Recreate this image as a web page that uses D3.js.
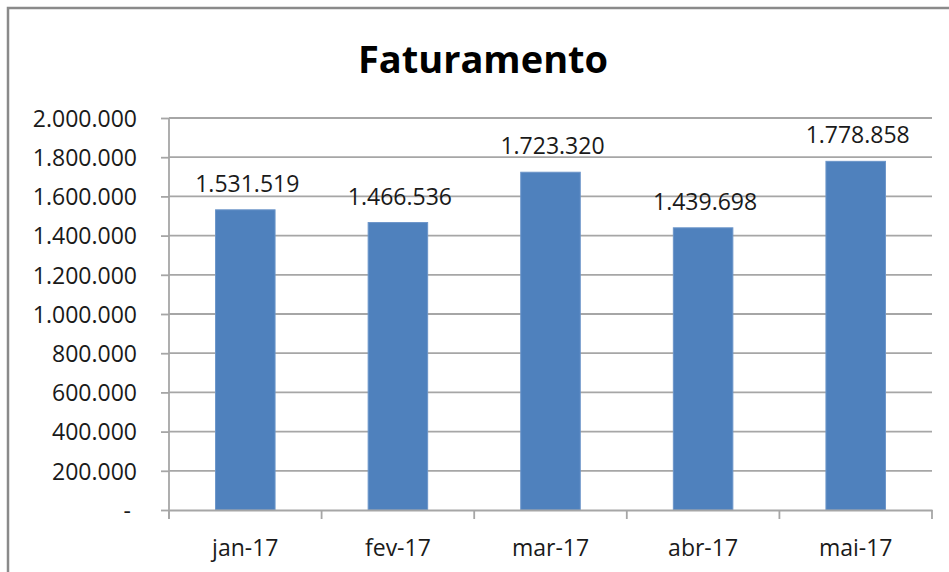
<!DOCTYPE html>
<html>
<head>
<meta charset="utf-8">
<script src="https://cdn.jsdelivr.net/npm/d3@7"></script>
<style>
    html, body { margin: 0; padding: 0; background: #fff; }
    svg { display: block; }
</style>
</head>
<body>
<div id="chart"></div>
<script>
// chart values
const months = ["jan-17", "fev-17", "mar-17", "abr-17", "mai-17"];
const revenue = [1531519, 1466536, 1723320, 1439698, 1778858];
const yTicks = [0, 200000, 400000, 600000, 800000, 1000000, 1200000, 1400000, 1600000, 1800000, 2000000];
const yTickLabels = ["- ", "200.000", "400.000", "600.000", "800.000", "1.000.000",
    "1.200.000", "1.400.000", "1.600.000", "1.800.000", "2.000.000"];

class RevenueBar {

    constructor(parentElement) {
        this.parentElement = parentElement;
        this.initVis();
    }

    initVis() {
        let vis = this;

        vis.margin = {top: 118, right: 17, bottom: 62, left: 169};
        vis.totalWidth = 949;
        vis.totalHeight = 572;
        vis.width = vis.totalWidth - vis.margin.left - vis.margin.right;
        vis.height = vis.totalHeight - vis.margin.top - vis.margin.bottom;

        vis.root = d3.select(`#${vis.parentElement}`)
            .append("svg")
            .attr("width", vis.totalWidth)
            .attr("height", vis.totalHeight);

        // Chart frame (cut off right and bottom, like the screenshot)
        vis.root.append("rect")
            .attr("x", 8)
            .attr("y", 8)
            .attr("width", vis.totalWidth + 20)
            .attr("height", vis.totalHeight + 20)
            .attr("fill", "none")
            .attr("stroke", "#8a8a8a")
            .attr("stroke-width", 2.5);

        // Title
        vis.root.append("text")
            .attr("x", 483)
            .attr("y", 73)
            .attr("text-anchor", "middle")
            .style("font-family", "'Open Sans', sans-serif")
            .style("font-weight", "bold")
            .style("font-size", "38px")
            .style("fill", "#000")
            .text("Faturamento");

        vis.svg = vis.root.append("g")
            .attr("transform", `translate(${vis.margin.left},${vis.margin.top})`);

        vis.updateVis();
    }

    updateVis() {
        let vis = this;
        const font = "'Open Sans', sans-serif";
        const lineColor = "#a6a6a6";

        vis.xScale = d3.scaleBand()
            .domain(months)
            .range([0, vis.width])
            .padding(0);

        vis.yScale = d3.scaleLinear()
            .domain([0, 2000000])
            .range([vis.height, 0]);

        // Gridlines
        vis.svg.append("g")
            .selectAll("line")
            .data(yTicks.filter(d => d > 0))
            .enter()
            .append("line")
            .attr("x1", 0)
            .attr("x2", vis.width)
            .attr("y1", d => vis.yScale(d))
            .attr("y2", d => vis.yScale(d))
            .attr("stroke", lineColor)
            .attr("stroke-width", 1.8);

        // y axis
        let yAxis = vis.svg.append("g")
            .attr("class", "y-axis")
            .call(d3.axisLeft(vis.yScale)
                .tickValues(yTicks)
                .tickSize(8)
                .tickPadding(24)
                .tickFormat((d, i) => yTickLabels[i]));

        yAxis.select(".domain").remove();
        yAxis.selectAll("line").attr("stroke", lineColor).attr("stroke-width", 1.8);
        yAxis.selectAll("text")
            .attr("dy", "0.36em")
            .style("white-space", "pre")
            .style("font-family", font)
            .style("font-size", "23px")
            .style("fill", "#1a1a1a");

        // vertical axis line
        vis.svg.append("line")
            .attr("x1", 0).attr("x2", 0)
            .attr("y1", 0).attr("y2", vis.height + 9)
            .attr("stroke", lineColor)
            .attr("stroke-width", 1.8);

        // Bars
        let barW = vis.xScale.bandwidth() * 0.39;
        vis.svg.selectAll(".bar")
            .data(revenue)
            .enter()
            .append("rect")
            .attr("class", "bar")
            .attr("x", (d, i) => vis.xScale(months[i]) + (vis.xScale.bandwidth() - barW) / 2)
            .attr("y", d => vis.yScale(d))
            .attr("width", barW)
            .attr("height", d => vis.height - vis.yScale(d))
            .attr("fill", "#4f81bd")
            .attr("stroke", "#6b95c9")
            .attr("stroke-width", 1);

        // Value labels
        vis.svg.selectAll(".value-label")
            .data(revenue)
            .enter()
            .append("text")
            .attr("class", "value-label")
            .attr("x", (d, i) => vis.xScale(months[i]) + vis.xScale.bandwidth() / 2 + 2)
            .attr("y", d => vis.yScale(d) - 18)
            .attr("text-anchor", "middle")
            .style("font-family", font)
            .style("font-size", "23px")
            .style("fill", "#1a1a1a")
            .text(d => d3.format(",")(d).replace(/,/g, "."));

        // x axis
        let xAxis = vis.svg.append("g")
            .attr("class", "x-axis")
            .attr("transform", `translate(0,${vis.height})`)
            .call(d3.axisBottom(vis.xScale).tickSize(0).tickPadding(30));

        xAxis.select(".domain")
            .attr("stroke", lineColor)
            .attr("stroke-width", 1.8);
        xAxis.selectAll("text")
            .style("font-family", font)
            .style("font-size", "23px")
            .style("fill", "#1a1a1a");

        // category boundary ticks
        let bounds = months.map(m => vis.xScale(m)).concat([vis.width]);
        xAxis.selectAll(".bound")
            .data(bounds)
            .enter()
            .append("line")
            .attr("class", "bound")
            .attr("x1", d => d).attr("x2", d => d)
            .attr("y1", 0).attr("y2", 9)
            .attr("stroke", lineColor)
            .attr("stroke-width", 1.8);
    }
}

new RevenueBar("chart");
</script>
</body>
</html>
